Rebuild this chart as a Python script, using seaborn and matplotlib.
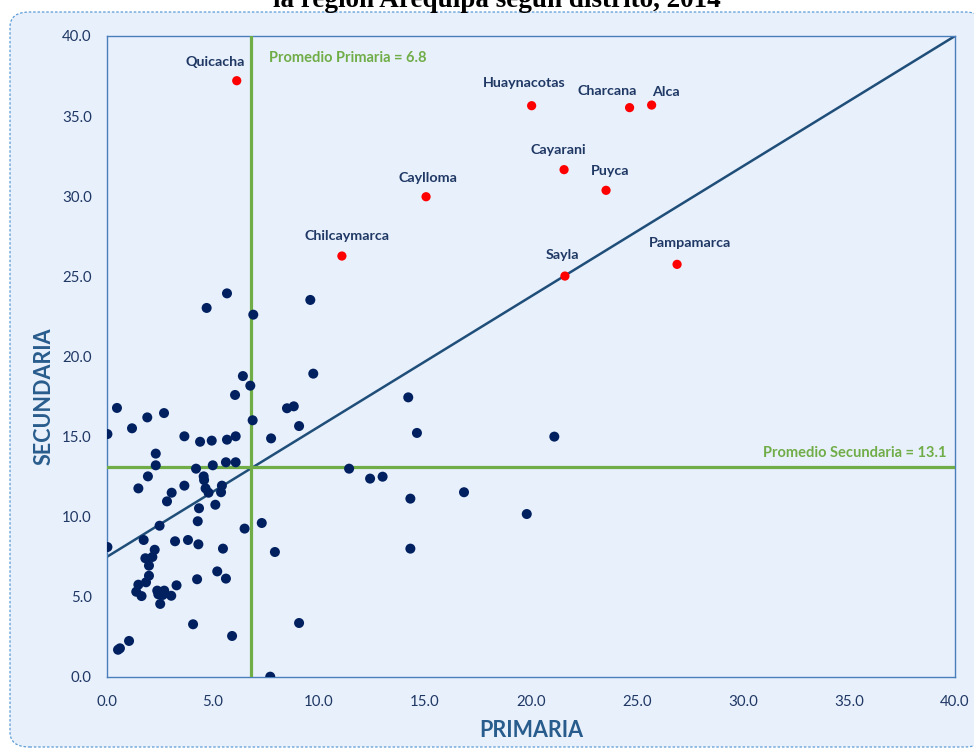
import numpy as np
import pandas as pd
import matplotlib
matplotlib.use("Agg")
import matplotlib.pyplot as plt
import seaborn as sns
from matplotlib.patches import FancyBboxPatch
from matplotlib.ticker import FormatStrFormatter

# --- data ---------------------------------------------------------------
primaria = [5.66, 4.70, 6.90, 6.41, 6.76, 6.04, 0.47, 2.69, 1.90, 1.18,
            0.02, 3.65, 4.39, 4.94, 5.66, 6.07, 6.87, 7.74, 8.49, 8.81,
            2.30, 2.30, 1.93, 4.20, 4.56, 4.99, 5.61, 6.07, 1.48, 3.65,
            3.05, 4.58, 4.65, 4.79, 5.42, 5.38, 2.83, 5.11, 4.34, 4.28,
            2.48, 6.49, 7.30, 0.02, 1.73, 3.21, 3.82, 4.31, 5.47, 7.92,
            2.25, 2.14, 1.81, 1.98, 1.98, 1.84, 1.48, 1.38, 1.63, 2.37,
            2.70, 2.42, 2.63, 2.51, 3.03, 3.28, 4.25, 5.20, 5.61, 4.06,
            5.90, 1.04, 0.61, 0.52, 7.70, 9.59, 9.73, 14.21, 9.06, 14.62,
            11.42, 12.41, 13.00, 14.31, 14.31, 9.06, 21.10, 16.84, 19.80]
secundaria = [23.94, 23.03, 22.61, 18.78, 18.18, 17.60, 16.79, 16.47, 16.20, 15.52,
              15.16, 15.02, 14.68, 14.75, 14.81, 15.02, 16.02, 14.89, 16.77, 16.89,
              13.94, 13.21, 12.52, 13.00, 12.52, 13.21, 13.40, 13.40, 11.77, 11.94,
              11.50, 12.29, 11.77, 11.50, 11.94, 11.53, 10.96, 10.75, 10.53, 9.72,
              9.44, 9.26, 9.61, 8.11, 8.55, 8.47, 8.55, 8.28, 8.01, 7.80,
              7.94, 7.49, 7.41, 6.95, 6.32, 5.91, 5.76, 5.32, 5.05, 5.39,
              5.39, 5.16, 5.12, 4.56, 5.07, 5.72, 6.10, 6.59, 6.14, 3.29,
              2.56, 2.25, 1.79, 1.70, 0.02, 23.53, 18.93, 17.45, 15.66, 15.23,
              13.00, 12.38, 12.50, 11.13, 8.01, 3.37, 15.00, 11.53, 10.17]

destacados = ["Quicacha", "Huaynacotas", "Charcana", "Alca", "Cayarani",
              "Puyca", "Caylloma", "Chilcaymarca", "Sayla", "Pampamarca"]
dest_primaria = [6.12, 20.03, 24.65, 25.69, 21.56, 23.54, 15.05, 11.08, 21.60, 26.89]
dest_secundaria = [37.21, 35.65, 35.53, 35.69, 31.66, 30.37, 29.97, 26.27, 25.02, 25.75]

prom_primaria = 6.8
prom_secundaria = 13.1
tendencia_intercepto = 7.5
tendencia_pendiente = 0.8125

titulo = "la región Arequipa según distrito, 2014"

# --- layout (label offsets in pixels) ------------------------------------
label_offsets = {
    "Quicacha": (-22, 19), "Huaynacotas": (-7, 23), "Charcana": (-22, 17),
    "Alca": (14, 13), "Cayarani": (-6, 20), "Puyca": (4, 19),
    "Caylloma": (2, 19), "Chilcaymarca": (5, 20), "Sayla": (-2, 21),
    "Pampamarca": (13, 21),
}

bg = "#E8F0FC"
navy = "#002060"
green = "#70AD47"
tick_col = "#1F3864"
label_col = "#285C8C"
spine_col = "#4A7EBB"

df = pd.DataFrame({"primaria": primaria, "secundaria": secundaria})
df_dest = pd.DataFrame({"distrito": destacados, "primaria": dest_primaria,
                        "secundaria": dest_secundaria})

sns.set_theme(style="white")
plt.rcParams["font.family"] = ["Lato", "DejaVu Sans"]

fig = plt.figure(figsize=(9.74, 7.49), dpi=100, facecolor="white")

# rounded panel behind the chart
W, H = 974, 749
panel = FancyBboxPatch((10 / W, 2 / H), 1.0, 735 / H,
                       boxstyle="round,pad=0,rounding_size=0.02",
                       transform=fig.transFigure, facecolor=bg,
                       edgecolor="#5B9BD5", linestyle=(0, (2, 1.5)), linewidth=0.9,
                       zorder=-5)
fig.patches.append(panel)

ax = fig.add_axes([107 / W, 1 - 677 / H, (955 - 107) / W, (677 - 36) / H])
ax.set_zorder(1)
ax.set_facecolor(bg)

# trend line
xs = np.array([0, 40])
ax.plot(xs, tendencia_intercepto + tendencia_pendiente * xs, color="#1F4E79",
        lw=1.8, zorder=2)

# averages
ax.axvline(prom_primaria, color=green, lw=2.3, zorder=3)
ax.axhline(prom_secundaria, color=green, lw=2.3, zorder=3)

sns.scatterplot(data=df, x="primaria", y="secundaria", ax=ax, color=navy,
                s=52, edgecolor="none", zorder=4, legend=False)
sns.scatterplot(data=df_dest, x="primaria", y="secundaria", ax=ax, color="#FF0000",
                s=44, edgecolor="none", zorder=4, legend=False)

for _, r in df_dest.iterrows():
    dx, dy = label_offsets[r["distrito"]]
    ax.annotate(r["distrito"], (r["primaria"], r["secundaria"]),
                xytext=(dx, dy), textcoords="offset pixels",
                ha="center", va="center", fontsize=10.3, fontweight="bold",
                color=tick_col)

ax.text(prom_primaria + 0.85, 38.6, f"Promedio Primaria = {prom_primaria}",
        color=green, fontsize=10.5, fontweight="bold", va="center", ha="left")
ax.text(39.6, prom_secundaria + 0.9, f"Promedio Secundaria = {prom_secundaria}",
        color=green, fontsize=10.5, fontweight="bold", va="center", ha="right")

ax.set_xlim(0, 40)
ax.set_ylim(0, 40)
ax.set_xticks(np.arange(0, 41, 5))
ax.set_yticks(np.arange(0, 41, 5))
ax.xaxis.set_major_formatter(FormatStrFormatter("%.1f"))
ax.yaxis.set_major_formatter(FormatStrFormatter("%.1f"))
ax.tick_params(axis="both", length=0, labelsize=10.8, labelcolor=tick_col)
ax.tick_params(axis="x", pad=13)
ax.tick_params(axis="y", pad=11)

ax.set_xlabel("PRIMARIA", fontsize=15.5, fontweight="bold", color=label_col, labelpad=8)
ax.set_ylabel("SECUNDARIA", fontsize=15.5, fontweight="bold", color=label_col)
ax.yaxis.set_label_coords(-0.062, 0.438)

for s in ax.spines.values():
    s.set_color(spine_col)
    s.set_linewidth(1.0)
    s.set_visible(True)

fig.text(497 / W, 1 - 7 / H, titulo, ha="center", va="baseline",
         fontsize=19.5, fontweight="bold", family=["Liberation Serif", "DejaVu Serif"],
         color="black")

fig.savefig("out.png", dpi=100, facecolor="white")
